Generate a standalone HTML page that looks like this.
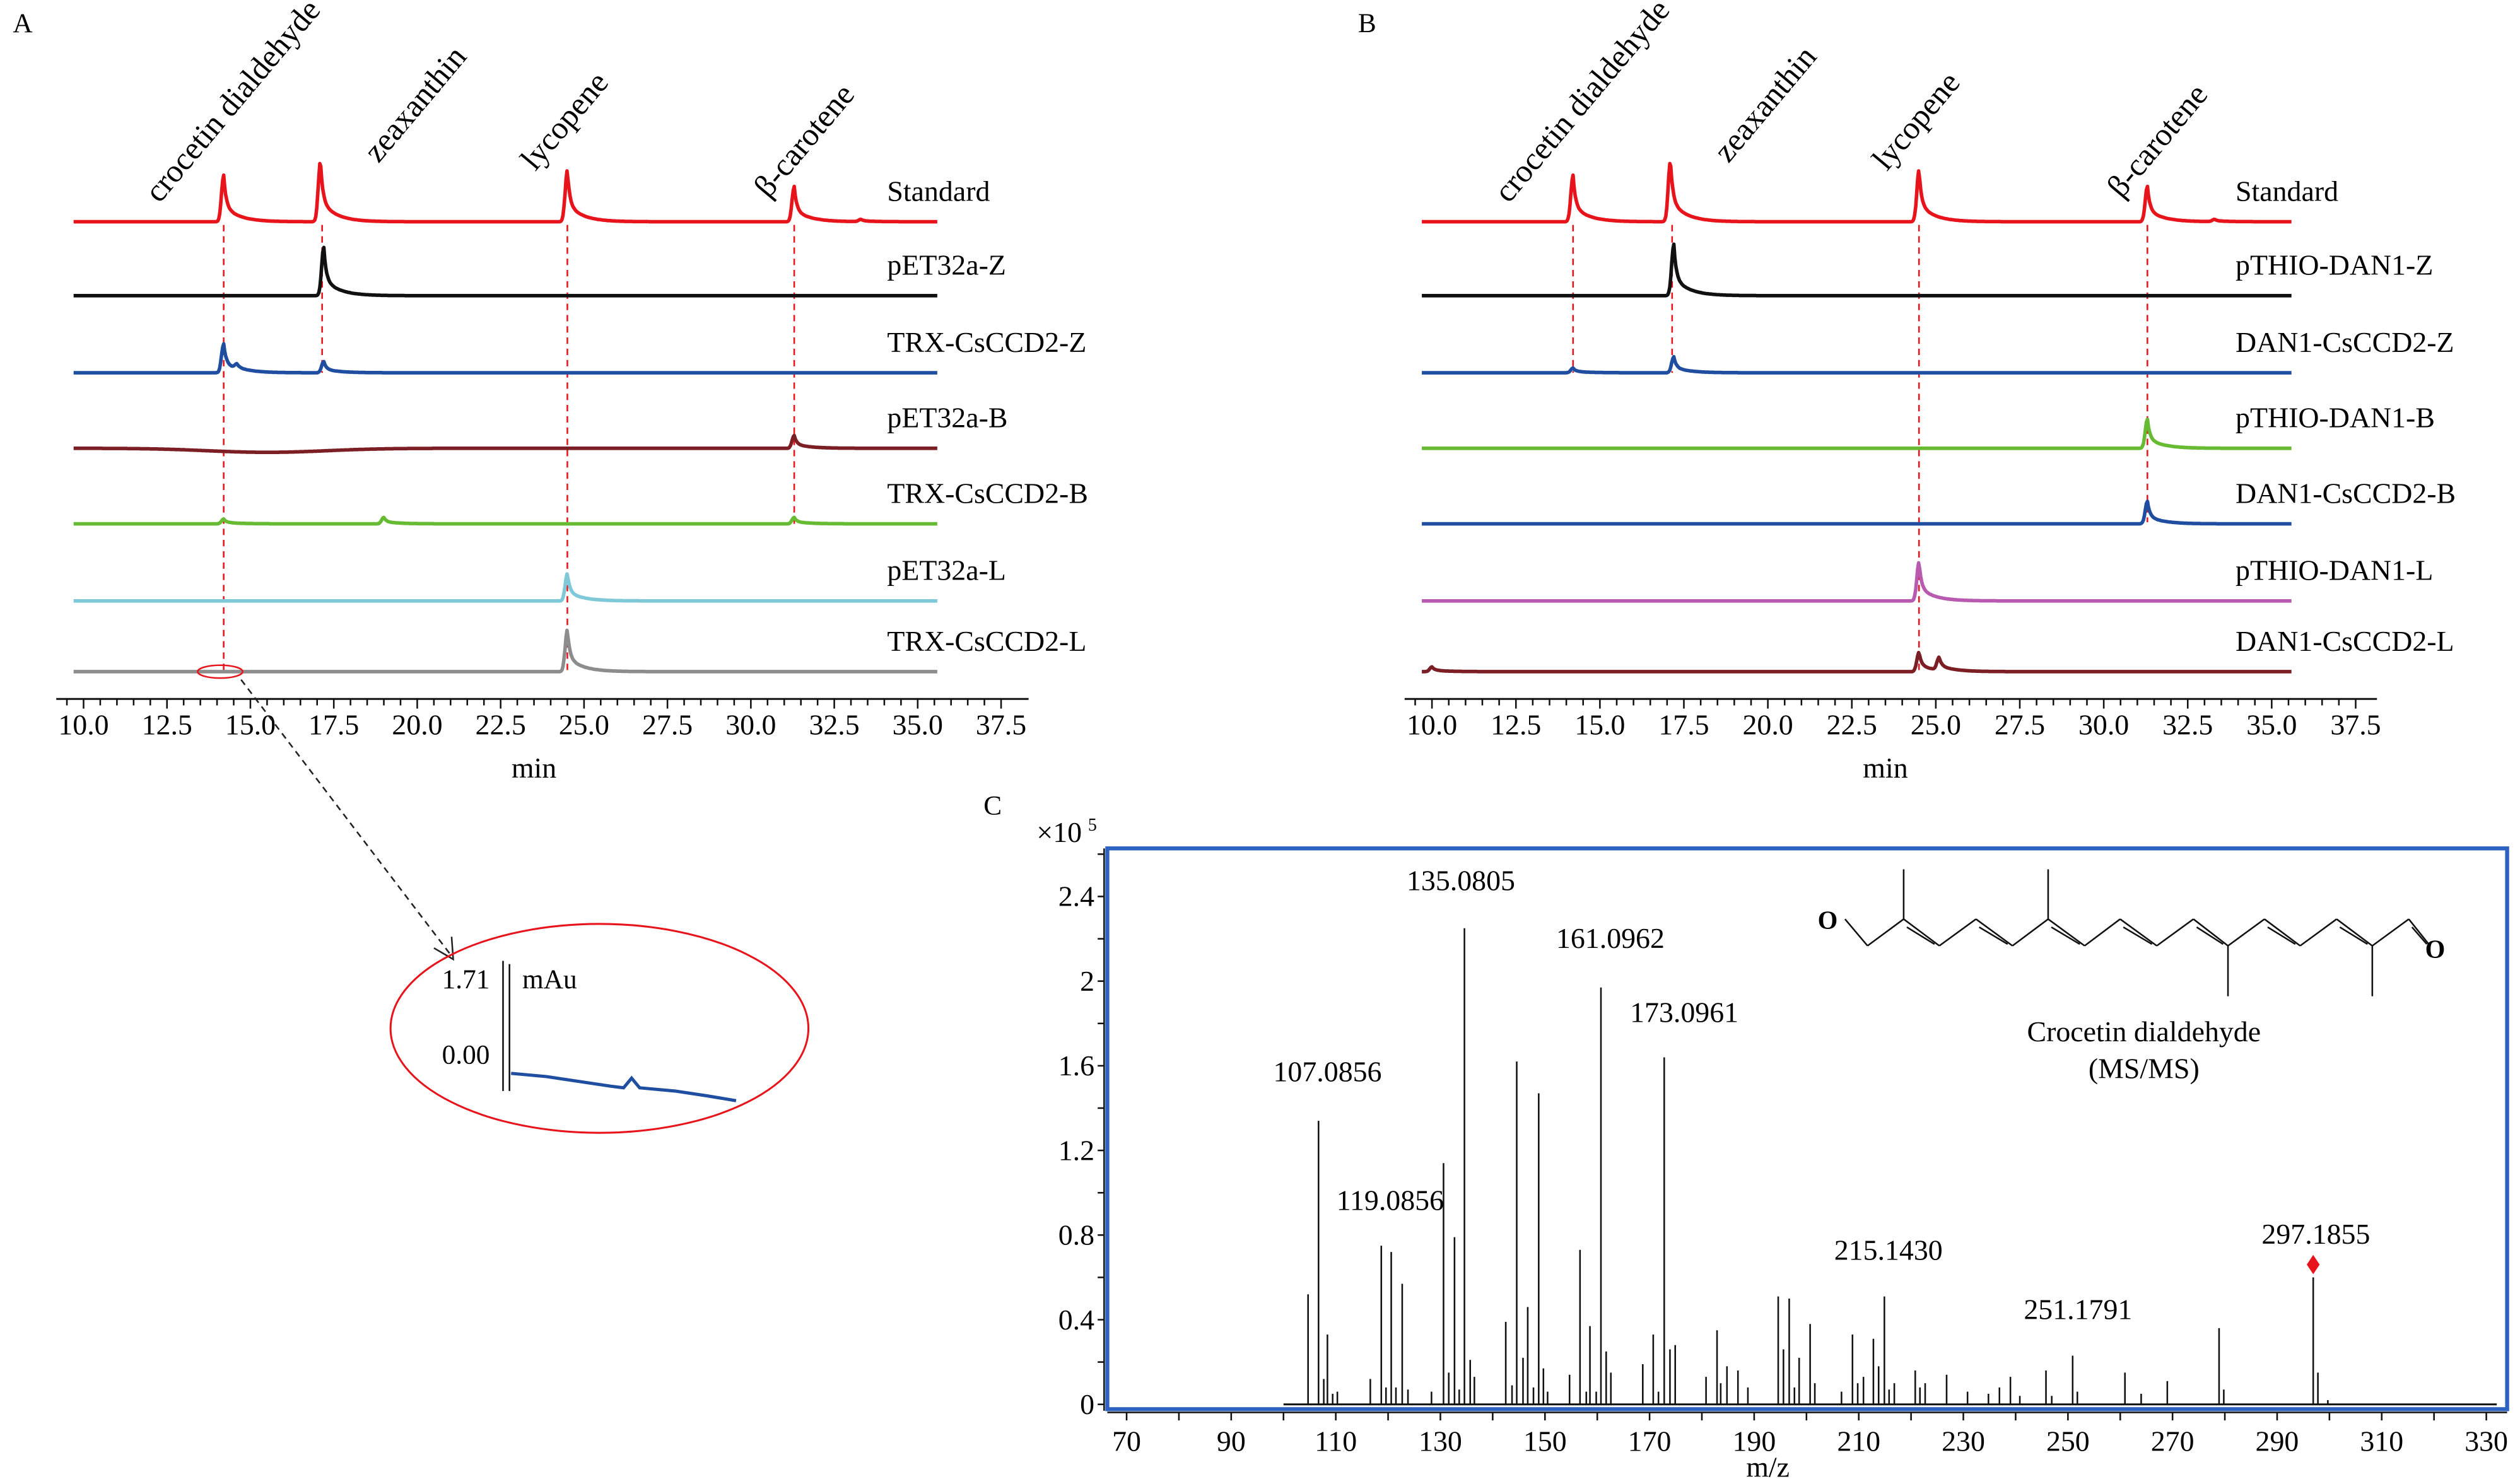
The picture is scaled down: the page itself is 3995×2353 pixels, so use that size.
<!DOCTYPE html>
<html><head><meta charset="utf-8"><style>
html,body{margin:0;padding:0;background:#fff;}
svg, svg text{font-family:"Liberation Serif","Times New Roman","DejaVu Serif",serif;}
</style></head><body>
<svg id="fig" width="3995" height="2348" viewBox="0 0 1568 921.6" preserveAspectRatio="none" xmlns="http://www.w3.org/2000/svg">
<text x="8" y="20" font-size="17">A</text>
<text x="845" y="20" font-size="17">B</text>
<text x="612" y="507" font-size="17">C</text>
<g id="pa"></g>
<g id="pb"></g>
<g id="pc"></g>
<g id="inset">
  <ellipse cx="137" cy="418" rx="14" ry="4" fill="none" stroke="#e8141c" stroke-width="1"/>
  <line x1="150" y1="423" x2="281" y2="595" stroke="#222" stroke-width="1" stroke-dasharray="4,3"/>
  <path d="M270 590 L282 597 L281 583" fill="none" stroke="#222" stroke-width="1"/>
  <ellipse cx="373" cy="640" rx="130" ry="65" fill="none" stroke="#e8141c" stroke-width="1.2"/>
  <line x1="313" y1="598" x2="313" y2="679" stroke="#111" stroke-width="1"/>
  <line x1="317" y1="600" x2="317" y2="679" stroke="#111" stroke-width="1"/>
  <text x="275" y="615" font-size="17">1.71</text>
  <text x="275" y="662" font-size="17">0.00</text>
  <text x="325" y="615" font-size="17">mAu</text>
  <polyline points="318,668 340,670 360,673 380,676 388,677 393,671 398,677 420,679 440,682 458,685" fill="none" stroke="#1f4ea0" stroke-width="2"/>
</g>
</svg>
<script>
var NS='http://www.w3.org/2000/svg';
function mk(parent,tag,attrs,txt){var e=document.createElementNS(NS,tag);for(var k in attrs)e.setAttribute(k,attrs[k]);if(txt!==undefined){e.textContent=txt;}parent.appendChild(e);return e;}

// ---------- Chromatogram data ----------
var compounds=['crocetin dialdehyde','zeaxanthin','lycopene','\u03B2-carotene'];
var compoundTimes=[14.2,17.15,24.5,31.3];
var axisTicks=[10.0,12.5,15.0,17.5,20.0,22.5,25.0,27.5,30.0,32.5,35.0,37.5];
var traceNamesA=['Standard','pET32a-Z','TRX-CsCCD2-Z','pET32a-B','TRX-CsCCD2-B','pET32a-L','TRX-CsCCD2-L'];
var traceNamesB=['Standard','pTHIO-DAN1-Z','DAN1-CsCCD2-Z','pTHIO-DAN1-B','DAN1-CsCCD2-B','pTHIO-DAN1-L','DAN1-CsCCD2-L'];
var peaksA=[
 [[14.2,29],[17.1,38],[24.5,32],[31.3,22],[33.3,1.5]],
 [[17.2,30]],
 [[14.2,18],[14.6,3],[17.2,7]],
 [[31.3,8],[15.5,-2.5]],
 [[14.2,3],[19.0,4],[31.3,4]],
 [[24.5,17]],
 [[24.5,26]]
];
var peaksB=[
 [[14.2,29],[17.1,38],[24.5,32],[31.3,22],[33.3,1.5]],
 [[17.2,32]],
 [[14.2,3],[17.2,10]],
 [[31.3,18]],
 [[31.3,14]],
 [[24.5,24]],
 [[24.5,12],[25.1,8],[10,3]]
];
var colorsA=['#e8141c','#111111','#1f4ea0','#7b1f24','#66bb33','#7ec8d8','#8c8c8c'];
var colorsB=['#e8141c','#111111','#1f4ea0','#66bb33','#1f4ea0','#b85bb0','#7b1f24'];

function shape(t,p){var dt=t-p[0];if(p[1]<0){return p[1]*Math.exp(-Math.pow(dt/2.5,2));}
 if(dt<0)return p[1]*Math.exp(-Math.pow(dt/0.09,2));return p[1]*(0.65*Math.exp(-dt/0.07)+0.35*Math.exp(-dt/0.45));}

function chrom(g,ox,slope,names,peaks,colors,dashEnds){
 function X(t){return ox+slope*(t-10);}
 var baselines=[138,184,232,279,326,374,418];
 compoundTimes.forEach(function(t,i){var l=mk(g,'line',{x1:X(t),x2:X(t),y1:140,y2:dashEnds[i],stroke:'#e8141c','stroke-width':1,'stroke-dasharray':'4,3'});
  
  });
 peaks.forEach(function(pk,i){var pts=[];for(var t=9.7;t<=35.6;t+=0.03){var v=0;pk.forEach(function(p){v+=shape(t,p);});pts.push(X(t).toFixed(1)+','+(baselines[i]-v).toFixed(1));}
  var pl=mk(g,'polyline',{points:pts.join(' '),fill:'none',stroke:colors[i],'stroke-width':2.2,'stroke-linejoin':'round'});
  
  
  var tx=mk(g,'text',{x:ox+500,y:baselines[i]-13,'font-size':18},names[i]);
  
  });
 var ys=[127,102,107,124], dx=[-40,35,-20,-16];
 compounds.forEach(function(c,i){var x=X(compoundTimes[i])+dx[i], y=ys[i];
  var tx=mk(g,'text',{x:x,y:y,'font-size':20,transform:'rotate(-50 '+x+' '+y+')'},c);
  
  });
 var ax=mk(g,'line',{x1:ox-17,x2:ox+588,y1:435,y2:435,stroke:'#111','stroke-width':1.2});
 
 
 for(var k=0;k<=56;k++){var t=9.5+k*0.5;var major=((k-1)%5===0);
  mk(g,'line',{x1:X(t),x2:X(t),y1:435,y2:435+(major?6:4),stroke:'#111','stroke-width':1});}
 axisTicks.forEach(function(t){var tx=mk(g,'text',{x:X(t),y:457,'font-size':18,'text-anchor':'middle'},t.toFixed(1));
  
  });
 var xt=mk(g,'text',{x:X(23.5),y:484,'font-size':18,'text-anchor':'middle'},'min');
 
 
}
try{chrom(document.getElementById('pa'),52,20.76,traceNamesA,peaksA,colorsA,[418,232,418,326]);}catch(e){}
try{chrom(document.getElementById('pb'),891,20.9,traceNamesB,peaksB,colorsB,[232,232,418,325]);}catch(e){}

// ---------- MS/MS data ----------
var mzValues=[104.7,106.7,107.7,108.4,109.4,110.3,116.6,118.7,119.6,120.6,121.5,122.7,123.8,128.3,130.6,131.6,132.7,133.6,134.6,135.7,136.5,142.5,143.7,144.6,145.8,146.7,147.8,148.8,149.7,150.5,154.7,156.7,157.9,158.6,159.8,160.7,161.7,162.6,168.7,170.7,171.7,172.8,173.9,174.9,180.8,182.9,183.6,184.8,186.9,188.8,194.6,195.6,196.7,197.7,198.6,200.7,201.6,206.7,208.8,209.8,210.9,212.8,213.8,214.9,215.8,216.8,220.8,221.7,222.7,226.8,230.8,234.8,236.9,239.0,240.8,245.8,246.9,250.9,251.8,260.9,264.0,269.0,278.9,279.8,296.9,297.8,299.7];
var intensities=[0.52,1.34,0.12,0.33,0.05,0.06,0.12,0.75,0.08,0.72,0.08,0.57,0.07,0.06,1.14,0.15,0.79,0.07,2.25,0.21,0.13,0.39,0.09,1.62,0.22,0.46,0.08,1.47,0.17,0.06,0.14,0.73,0.06,0.37,0.06,1.97,0.25,0.15,0.19,0.33,0.06,1.64,0.26,0.28,0.13,0.35,0.10,0.18,0.16,0.08,0.51,0.26,0.50,0.08,0.22,0.38,0.10,0.06,0.33,0.10,0.13,0.31,0.18,0.51,0.07,0.10,0.16,0.08,0.10,0.14,0.06,0.05,0.08,0.13,0.04,0.16,0.04,0.23,0.06,0.15,0.05,0.11,0.36,0.07,0.60,0.15,0.02];
var yTicks=[0,0.4,0.8,1.2,1.6,2,2.4];
var mzTicks=[70,90,110,130,150,170,190,210,230,250,270,290,310,330];
var peakLabels=['135.0805','161.0962','173.0961','107.0856','119.0856','215.1430','251.1791','297.1855'];

try{(function(){
 var g=document.getElementById('pc');
 function MX(m){return 701+(m-70)*3.254;}
 function MY(v){return 874-v*131.7;}
 var xe=mk(g,'text',{x:645,y:524,'font-size':18},'\u00D710');
 
 
 mk(g,'text',{x:677,y:517,'font-size':11},'5');
 var fr=mk(g,'rect',{x:689,y:528,width:871,height:349,fill:'none',stroke:'#2e62c0','stroke-width':2.5});
 
 
 mk(g,'line',{x1:687,x2:687,y1:528,y2:878,stroke:'#111','stroke-width':1});
 for(var k=0;k<=13;k++){var v=k*0.2;mk(g,'line',{x1:683,x2:687,y1:MY(v),y2:MY(v),stroke:'#111','stroke-width':1});}
 yTicks.forEach(function(v){var t=mk(g,'text',{x:681,y:MY(v)+6,'font-size':18,'text-anchor':'end'},String(v));
  
  });
 mk(g,'line',{x1:689,x2:1560,y1:879,y2:879,stroke:'#111','stroke-width':1});
 for(var m=70;m<=330;m+=10)mk(g,'line',{x1:MX(m),x2:MX(m),y1:879,y2:884,stroke:'#111','stroke-width':1});
 mzTicks.forEach(function(m){var t=mk(g,'text',{x:MX(m),y:903,'font-size':18,'text-anchor':'middle'},String(m));
  
  });
 var xt=mk(g,'text',{x:1100,y:919,'font-size':18,'text-anchor':'middle'},'m/z');
 
 
 mk(g,'line',{x1:MX(100),x2:MX(332),y1:MY(0),y2:MY(0),stroke:'#111','stroke-width':1.2});
 mzValues.forEach(function(m,i){var l=mk(g,'line',{x1:MX(m),x2:MX(m),y1:MY(0),y2:MY(intensities[i]),stroke:'#111','stroke-width':1});
  
  });
 var lp=[[909,554],[1002,590],[1048,636],[826,673],[865,753],[1175,784],[1293,821],[1441,774]];
 peakLabels.forEach(function(s,i){var t=mk(g,'text',{x:lp[i][0],y:lp[i][1],'font-size':18,'text-anchor':'middle'},s);
  
  });
 var px=MX(296.9);
 var d=mk(g,'path',{d:'M'+px+' 781 l4 6 l-4 6 l-4 -6z',fill:'#e8141c'});
 
 
 var s=mk(g,'g',{stroke:'#111','stroke-width':1,fill:'none'});
 
 
 var xs=[1148,1162,1184.5,1206.7,1229.5,1252.2,1274.4,1297.1,1319.2,1342,1364.8,1386.3,1409,1431.2,1453.9,1476.1,1498.8,1512];
 var pts=xs.map(function(x,i){return [x,i%2?588.6:572];});
 for(var i=1;i<pts.length;i++){mk(s,'line',{x1:pts[i-1][0],y1:pts[i-1][1],x2:pts[i][0],y2:pts[i][1]});}
 [2,4,6,8,10,12,14].forEach(function(i){mk(s,'line',{x1:pts[i][0]+2,y1:pts[i][1]+5,x2:pts[i+1][0]-3,y2:pts[i+1][1]-1});});
 mk(s,'line',{x1:pts[16][0]+2,y1:pts[16][1]+5,x2:pts[17][0]-2,y2:pts[17][1]-1});
 mk(s,'line',{x1:1184.5,y1:572,x2:1184.5,y2:541});
 mk(s,'line',{x1:1274.4,y1:572,x2:1274.4,y2:541});
 mk(s,'line',{x1:1386.3,y1:588.6,x2:1386.3,y2:620});
 mk(s,'line',{x1:1476.1,y1:588.6,x2:1476.1,y2:620});
 mk(g,'text',{x:1131,y:578,'font-size':16,'font-weight':'bold'},'O');
 mk(g,'text',{x:1509,y:596,'font-size':16,'font-weight':'bold'},'O');
 var n1=mk(g,'text',{x:1334,y:648,'font-size':18,'text-anchor':'middle'},'Crocetin dialdehyde');
 
 
 mk(g,'text',{x:1334,y:671,'font-size':18,'text-anchor':'middle'},'(MS/MS)');
})();}catch(e){}
</script>
</body></html>
